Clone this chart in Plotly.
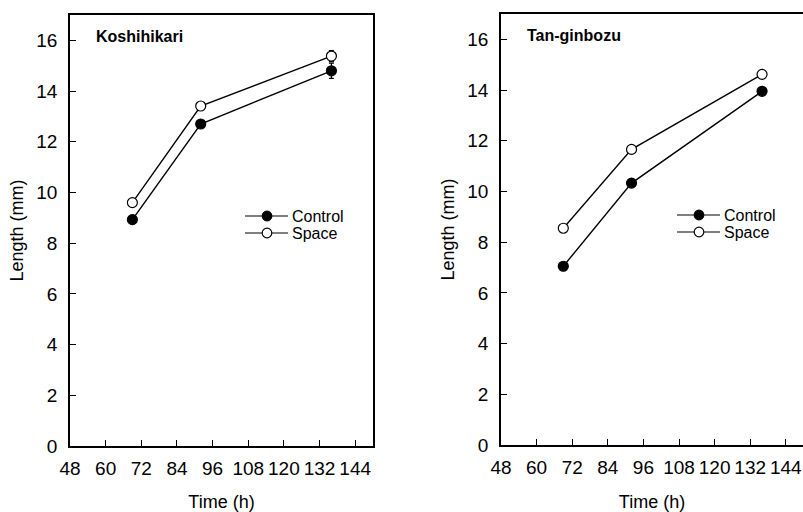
import plotly.graph_objects as go

# ---- data ----
time_h = [69, 92, 136]
kosh_control = [8.93, 12.70, 14.80]
kosh_space = [9.60, 13.41, 15.38]
kosh_control_err = [0.0, 0.0, 0.30]
kosh_space_err = [0.0, 0.0, 0.22]
tan_control = [7.05, 10.33, 13.95]
tan_space = [8.55, 11.66, 14.62]
tan_control_err = [0.0, 0.0, 0.0]
tan_space_err = [0.0, 0.0, 0.0]
x_ticks = [48, 60, 72, 84, 96, 108, 120, 132, 144]
y_ticks = [0, 2, 4, 6, 8, 10, 12, 14, 16]
panel_titles = ["Koshihikari", "Tan-ginbozu"]
series_names = ["Control", "Space"]

W, H = 803, 512
FONT = "Liberation Sans, Arial, Helvetica, sans-serif"

fig = go.Figure()


def add_series(y, err, xa, ya, filled):
    fig.add_trace(go.Scatter(
        x=time_h, y=y, xaxis=xa, yaxis=ya, mode="lines+markers",
        line=dict(color="black", width=1.4),
        marker=dict(size=10, symbol="circle",
                    color="black" if filled else "white",
                    line=dict(color="black", width=1.2)),
        error_y=dict(type="data", array=err, visible=True,
                     color="black", thickness=1.2, width=2.5),
        showlegend=False, cliponaxis=False))


add_series(kosh_control, kosh_control_err, "x", "y", True)
add_series(kosh_space, kosh_space_err, "x", "y", False)
add_series(tan_control, tan_control_err, "x2", "y2", True)
add_series(tan_space, tan_space_err, "x2", "y2", False)

axis_common = dict(
    showline=True, linecolor="black", linewidth=1.5, mirror=True,
    ticks="inside", ticklen=6, tickwidth=1.3, tickcolor="black",
    showgrid=False, zeroline=False, automargin=False,
    tickfont=dict(family=FONT, size=19, color="black"),
)
title_font = dict(family=FONT, size=18, color="black")

fig.update_layout(
    width=W, height=H, margin=dict(l=0, r=0, t=0, b=0),
    paper_bgcolor="white", plot_bgcolor="white",
    xaxis=dict(domain=[70 / W, 373 / W], range=[48, 150.0],
               tickvals=x_ticks, anchor="y", ticklabelstandoff=4,
               title=dict(text="Time (h)", standoff=30, font=title_font),
               **axis_common),
    yaxis=dict(domain=[1 - 446 / H, 1 - 15 / H], range=[0, 17.0],
               tickvals=y_ticks, anchor="x", ticklabelstandoff=7,
               title=dict(text="Length (mm)", standoff=8, font=title_font),
               **axis_common),
    xaxis2=dict(domain=[501 / W, 1.0], range=[48, 149.8],
                tickvals=x_ticks, anchor="y2", ticklabelstandoff=4,
                title=dict(text="Time (h)", standoff=30, font=title_font),
                **axis_common),
    yaxis2=dict(domain=[1 - 445 / H, 1 - 14 / H], range=[0, 17.0],
                tickvals=y_ticks, anchor="x2", ticklabelstandoff=7,
                title=dict(text="Length (mm)", standoff=8, font=title_font),
                **axis_common),
)

# panel titles
for t, xr, yr in zip(panel_titles, ["x domain", "x2 domain"], ["y domain", "y2 domain"]):
    fig.add_annotation(text="<b>%s</b>" % t, xref=xr, yref=yr, x=0.08, y=0.95,
                       xanchor="left", yanchor="middle", showarrow=False,
                       font=dict(family=FONT, size=16, color="black"))

# legends (drawn in pixel positions within each panel)
legend_pos = [(245, 216, 17), (677, 215, 17)]
for (lx, ly, gap) in legend_pos:
    for j, name in enumerate(series_names):
        yy = ly + j * gap
        fig.add_shape(type="line", xref="paper", yref="paper",
                      x0=lx / W, x1=(lx + 43) / W, y0=1 - yy / H, y1=1 - yy / H,
                      line=dict(color="black", width=1.2))
        cx = lx + 22
        r = 4.8
        fig.add_shape(type="circle", xref="paper", yref="paper",
                      x0=(cx - r) / W, x1=(cx + r) / W,
                      y0=1 - (yy + r) / H, y1=1 - (yy - r) / H,
                      fillcolor="black" if j == 0 else "white",
                      line=dict(color="black", width=1.2))
        fig.add_annotation(text=name, xref="paper", yref="paper",
                           x=(lx + 46) / W, y=1 - yy / H, xanchor="left",
                           yanchor="middle", showarrow=False,
                           borderpad=0, valign="middle",
                           font=dict(family=FONT, size=16, color="black"))

fig.write_html("out.html")
